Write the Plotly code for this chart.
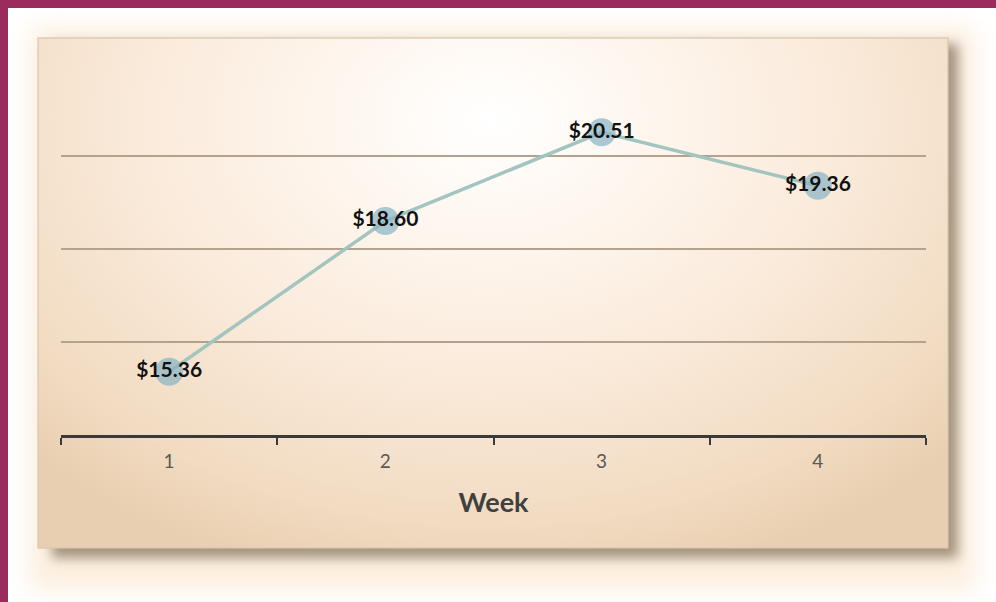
import base64
import plotly.graph_objects as go

# Weekly average values
weeks = ["1", "2", "3", "4"]
values = [15.36, 18.60, 20.51, 19.36]
grid_values = [16, 18, 20]

W, H = 996, 602

# Decorative backdrop: maroon frame edges, soft glow, drop shadow and a
# radial beige gradient panel, rendered as an inline SVG layout image.
backdrop_svg = f"""<svg xmlns="http://www.w3.org/2000/svg" width="{W}" height="{H}" viewBox="0 0 {W} {H}">
<defs>
  <radialGradient id="panel" gradientUnits="userSpaceOnUse" cx="490" cy="120" r="560"
      gradientTransform="translate(490 120) scale(1.15 0.85) translate(-490 -120)">
    <stop offset="0" stop-color="#FFFFFF"/>
    <stop offset="0.25" stop-color="#FEF6EE"/>
    <stop offset="0.55" stop-color="#FAEADA"/>
    <stop offset="0.85" stop-color="#F1DBC1"/>
    <stop offset="1" stop-color="#E9CFB1"/>
  </radialGradient>
  <filter id="glow" x="-20%" y="-20%" width="140%" height="140%">
    <feGaussianBlur stdDeviation="12"/>
  </filter>
  <filter id="shadow" x="-20%" y="-20%" width="140%" height="140%">
    <feGaussianBlur stdDeviation="6"/>
  </filter>
</defs>
<rect x="0" y="0" width="{W}" height="{H}" fill="#FFFFFF"/>
<rect x="30" y="28" width="945" height="562" fill="#F9E4C8" opacity="0.6" filter="url(#glow)"/>
<rect x="52" y="44" width="906" height="514" fill="#8E7D66" opacity="0.8" filter="url(#shadow)"/>
<rect x="38" y="38" width="910" height="510" fill="url(#panel)" stroke="#D8C6AC" stroke-width="1.2"/>
<rect x="0" y="0" width="{W}" height="8" fill="#9C2B5D"/>
<rect x="0" y="0" width="8" height="{H}" fill="#9C2B5D"/>
</svg>"""
backdrop_uri = "data:image/svg+xml;base64," + base64.b64encode(backdrop_svg.encode()).decode()

fig = go.Figure()
fig.add_trace(go.Scatter(
    x=weeks,
    y=values,
    mode="lines+markers+text",
    line=dict(color="#A3C5BF", width=3.5),
    marker=dict(size=28, color="rgba(136,180,196,0.7)", line=dict(width=0)),
    texttemplate="$%{y:.2f}",
    textposition="middle center",
    textfont=dict(family="Lato", size=21, color="#111111", weight="bold"),
    hoverinfo="skip",
    showlegend=False,
    cliponaxis=False,
))

fig.update_layout(
    width=W,
    height=H,
    autosize=False,
    margin=dict(l=0, r=0, t=0, b=0),
    paper_bgcolor="rgba(0,0,0,0)",
    plot_bgcolor="rgba(0,0,0,0)",
    images=[dict(
        source=backdrop_uri,
        xref="paper", yref="paper",
        x=0, y=1, sizex=1, sizey=1,
        xanchor="left", yanchor="top",
        sizing="stretch", layer="below",
    )],
    xaxis=dict(
        type="category",
        domain=[61 / W, 926 / W],
        range=[-0.5, 3.5],
        tickson="boundaries",
        ticks="outside",
        ticklen=7,
        tickwidth=2,
        tickcolor="#3A3A3A",
        showline=True,
        linecolor="#3A3A3A",
        linewidth=2.5,
        showgrid=False,
        ticklabelstandoff=7,
        tickfont=dict(family="Lato", size=19, color="#595959"),
        title=dict(text="Week", standoff=23,
                   font=dict(family="Lato", size=27, color="#404040", weight="bold")),
        automargin=False,
        fixedrange=True,
    ),
    yaxis=dict(
        domain=[(H - 435) / H, (H - 63) / H],
        range=[14, 22],
        tickvals=grid_values,
        showticklabels=False,
        showgrid=True,
        gridcolor="#B3A38D",
        gridwidth=1.5,
        zeroline=False,
        showline=False,
        ticks="",
        automargin=False,
        fixedrange=True,
    ),
)

fig.write_html("out.html")
